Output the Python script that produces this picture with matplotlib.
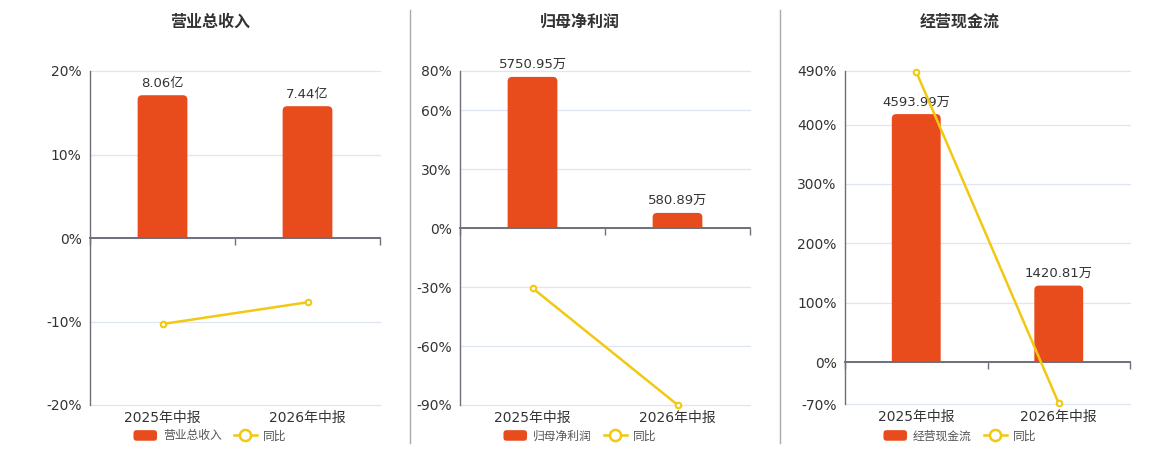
"""Three-panel bar + YoY line chart (营业总收入 / 归母净利润 / 经营现金流)."""

import matplotlib

matplotlib.use("Agg")
import matplotlib.pyplot as plt
from matplotlib.legend_handler import HandlerPatch
from matplotlib.lines import Line2D
from matplotlib.patches import FancyBboxPatch, Rectangle, Patch

plt.rcParams["font.family"] = ["DejaVu Sans", "Noto Sans CJK SC"]

CATEGORIES = ["2025年中报", "2026年中报"]

TITLES = ["营业总收入", "归母净利润", "经营现金流"]
UNITS = ["亿", "万", "万"]

REVENUE = [8.06, 7.44]
NET_PROFIT = [5750.95, 580.89]
CASH_FLOW = [4593.99, 1420.81]

REVENUE_YOY = [-10.3, -7.7]
NET_PROFIT_YOY = [-30.5, -89.9]
CASH_FLOW_YOY = [488.5, -69.07]

PCT_TICKS = [
    [-20, -10, 0, 10, 20],
    [-90, -60, -30, 0, 30, 60, 80],
    [-70, 0, 100, 200, 300, 400, 490],
]

BAR_COLOR = "#E84B1C"
LINE_COLOR = "#F2C811"
AXIS_COLOR = "#6E7079"
GRID_COLOR = "#E0E6F1"
TEXT_COLOR = "#333333"

W, H = 1160, 450

# pixel layout: (left, top, right, bottom) of each plot area
RECTS = [(90, 71, 380, 405), (460, 71, 750, 405), (845, 71, 1130, 404)]
CENTERS = [210, 580, 960]
# where the tallest bar ends, expressed on the percent axis
BAR_TOP_PCT = [17.1, 77.0, 417.5]


class RoundPatchHandler(HandlerPatch):
    def create_artists(self, legend, orig_handle, xdescent, ydescent, width, height, fontsize, trans):
        p = FancyBboxPatch(
            (-xdescent, -ydescent),
            width,
            height,
            boxstyle=f"round,pad=0,rounding_size={height * 0.3}",
            fc=orig_handle.get_facecolor(),
            ec="none",
            transform=trans,
        )
        return [p]


def rounded_bars(bax, bars, r_px, w_px, h_px):
    x0, x1 = bax.get_xlim()
    y0, y1 = bax.get_ylim()
    rx = r_px * (x1 - x0) / w_px
    ry = r_px * (y1 - y0) / h_px
    clip = Rectangle((x0, 0), x1 - x0, y1, transform=bax.transData)
    for rect in bars:
        rect.set_visible(False)
        p = FancyBboxPatch(
            (rect.get_x(), -ry),
            rect.get_width(),
            rect.get_height() + ry,
            boxstyle=f"round,pad=0,rounding_size={rx}",
            mutation_aspect=ry / rx,
            fc=BAR_COLOR,
            ec="none",
            zorder=2,
        )
        bax.add_patch(p)
        p.set_clip_path(clip)


fig = plt.figure(figsize=(W / 100, H / 100), dpi=100)

panels = [
    (REVENUE, REVENUE_YOY),
    (NET_PROFIT, NET_PROFIT_YOY),
    (CASH_FLOW, CASH_FLOW_YOY),
]

x = list(range(len(CATEGORIES)))

for i, (vals, yoy) in enumerate(panels):
    l, t, r, b = RECTS[i]
    rect = [l / W, 1 - b / H, (r - l) / W, (b - t) / H]
    ticks = PCT_TICKS[i]
    pct_lim = (ticks[0], ticks[-1])
    k = max(vals) / BAR_TOP_PCT[i]

    # bar axes (below): grid, zero line, bars
    bax = fig.add_axes(rect)
    bax.set_xlim(-0.5, 1.5)
    bax.set_ylim(pct_lim[0] * k, pct_lim[1] * k)
    bax.set_yticks([tk * k for tk in ticks])
    bax.tick_params(axis="y", length=0, labelleft=False)
    bax.grid(axis="y", color=GRID_COLOR, lw=0.9, clip_on=False)
    bax.set_axisbelow(True)
    for s in ["top", "right", "left"]:
        bax.spines[s].set_visible(False)
    bax.spines["bottom"].set_position(("data", 0))
    bax.spines["bottom"].set_color(AXIS_COLOR)
    bax.spines["bottom"].set_linewidth(1.4)
    bax.set_xticks([-0.5, 0.5, 1.5])
    bax.tick_params(axis="x", length=5, width=1, color=AXIS_COLOR, labelbottom=False)

    bars = bax.bar(x, vals, width=0.343, color=BAR_COLOR)
    rounded_bars(bax, bars, 4.5, r - l, b - t)
    for xi, v in zip(x, vals):
        bax.annotate(
            f"{v:.2f}{UNITS[i]}",
            (xi, v),
            xytext=(0, 4),
            textcoords="offset points",
            ha="center",
            va="bottom",
            fontsize=9.5,
            color=TEXT_COLOR,
        )

    # percent axes (on top): line, y labels, category labels
    ax = fig.add_axes(rect)
    ax.patch.set_visible(False)
    ax.set_xlim(-0.5, 1.5)
    ax.set_ylim(*pct_lim)
    ax.plot(
        x,
        yoy,
        color=LINE_COLOR,
        lw=1.8,
        marker="o",
        ms=4,
        mfc="white",
        mec=LINE_COLOR,
        mew=1.5,
        zorder=5,
        clip_on=False,
    )
    ax.set_yticks(ticks)
    ax.set_yticklabels([f"{tk}%" for tk in ticks])
    ax.tick_params(axis="y", length=0, pad=6, labelsize=10, labelcolor=TEXT_COLOR)
    ax.set_xticks(x)
    ax.set_xticklabels(CATEGORIES)
    ax.tick_params(axis="x", length=0, pad=4, labelsize=10, labelcolor=TEXT_COLOR)
    for s in ["top", "right", "bottom"]:
        ax.spines[s].set_visible(False)
    ax.spines["left"].set_color(AXIS_COLOR)
    ax.spines["left"].set_linewidth(1)

    fig.text(
        CENTERS[i] / W,
        1 - 22 / H,
        TITLES[i],
        ha="center",
        va="center",
        fontsize=11.5,
        fontweight="bold",
        color=TEXT_COLOR,
    )

    handles = [
        Patch(facecolor=BAR_COLOR, edgecolor="none"),
        Line2D([], [], color=LINE_COLOR, lw=1.8, marker="o", ms=8, mfc="white", mew=1.8),
    ]
    fig.legend(
        handles,
        [TITLES[i], "同比"],
        loc="center",
        bbox_to_anchor=(CENTERS[i] / W, 1 - 436 / H),
        ncol=2,
        frameon=False,
        fontsize=8.5,
        handlelength=2.0,
        handleheight=1.0,
        handletextpad=0.5,
        columnspacing=1.0,
        labelcolor="#555555",
        borderpad=0,
        handler_map={Patch: RoundPatchHandler()},
    )

for xd in [410, 780]:
    fig.add_artist(
        Line2D([xd / W, xd / W], [1 - 443 / H, 1 - 10 / H], transform=fig.transFigure, color="#AAAAAA", lw=1)
    )

fig.savefig("out.png", dpi=100, facecolor="white")
